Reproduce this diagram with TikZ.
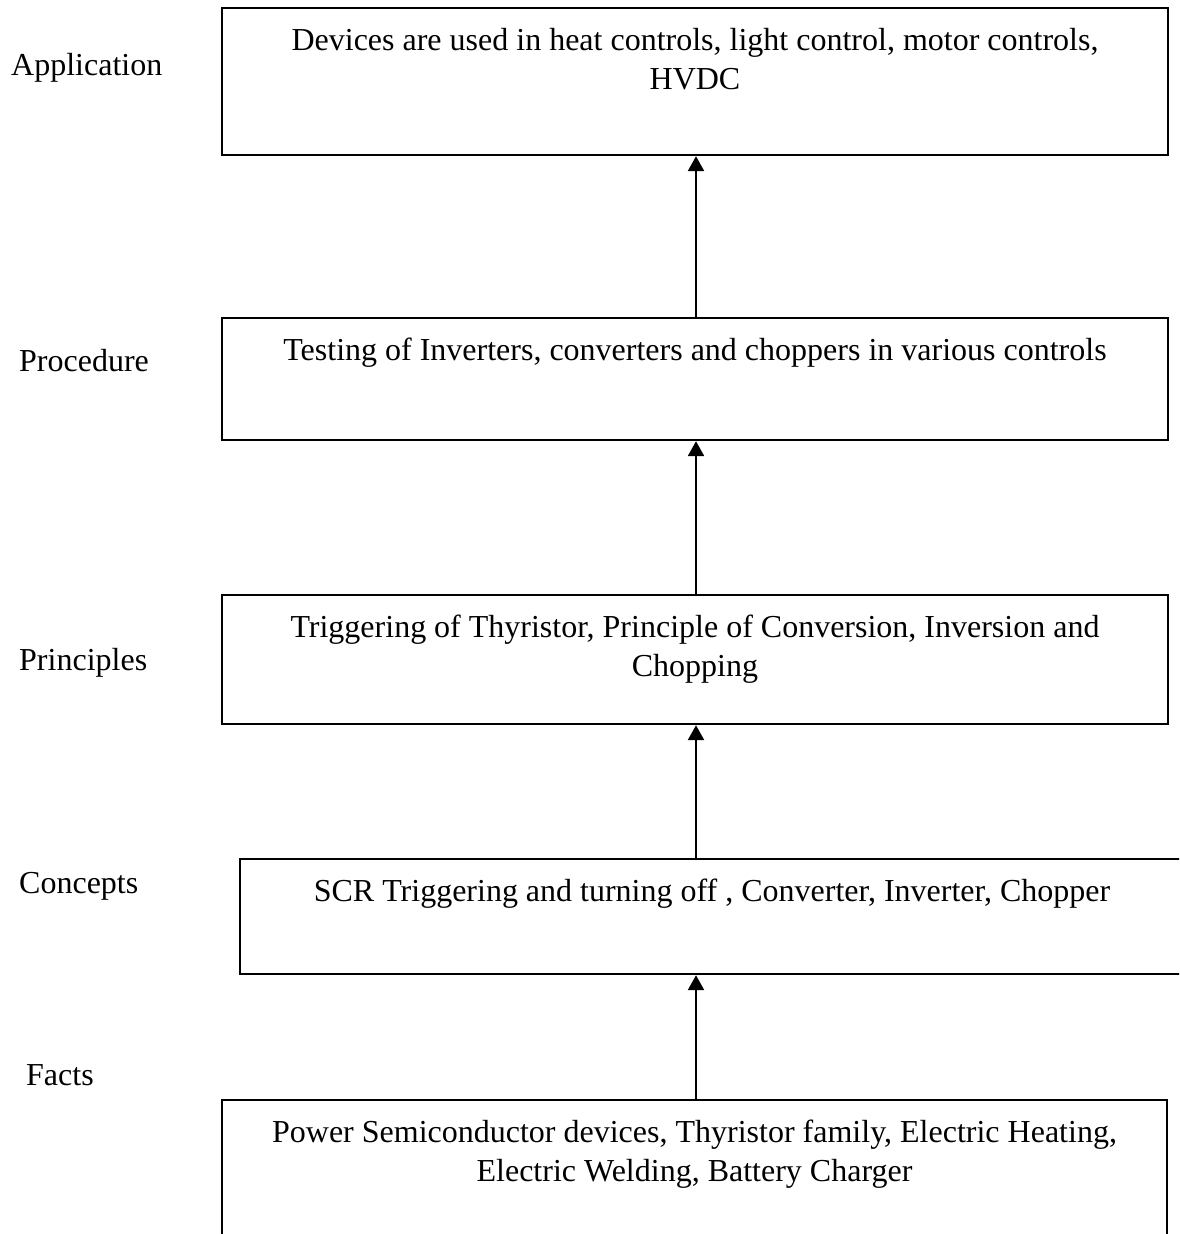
\documentclass[tikz,border=0pt]{standalone}
\usepackage{fontspec}
\setmainfont{Liberation Serif}
\usetikzlibrary{arrows.meta}

\begin{document}
\begin{tikzpicture}[
    x=0.5pt, y=-0.5pt,
    line width=1.2pt,
    >={Triangle[width=8pt,length=7.5pt]},
    every node/.style={font=\fontsize{16}{19.5}\selectfont},
    levelbox/.style={draw, rectangle, inner sep=0pt},
    boxtext/.style={anchor=north, inner sep=0pt, align=center, yshift=-10pt},
    sidetext/.style={anchor=base west, inner sep=0pt}
]
  \useasboundingbox (0,0) rectangle (1179,1234);
  \clip (0,0) rectangle (1179,1234);

  %--- boxes ---
  \node[levelbox, minimum width=473pt, minimum height=73.5pt] (app)  at (695,81.5)  {};
  \node[levelbox, minimum width=473pt, minimum height=61pt]   (proc) at (695,379)   {};
  \node[levelbox, minimum width=473pt, minimum height=64.5pt] (prin) at (695,659.5) {};
  \node[levelbox, minimum width=472pt, minimum height=57.5pt] (conc) at (712,916.5) {};
  \node[levelbox, minimum width=472.5pt, minimum height=95pt] (fact) at (694.5,1195) {};

  %--- box texts ---
  \node[boxtext] (apptext)  at (app.north)  {Devices are used in heat controls, light control, motor controls,\\ HVDC};
  \node[boxtext] (proctext) at (proc.north) {Testing of Inverters, converters and choppers in various controls};
  \node[boxtext] (printext) at (prin.north) {Triggering of Thyristor, Principle of Conversion, Inversion and\\ Chopping};
  \node[boxtext] (conctext) at (conc.north) {SCR Triggering and turning off , Converter, Inverter, Chopper};
  \node[boxtext] (facttext) at (fact.north) {Power Semiconductor devices, Thyristor family, Electric Heating,\\ Electric Welding, Battery Charger};

  %--- level names ---
  \node[sidetext] (applbl)  at (10,76)   {Application};
  \node[sidetext] (proclbl) at (18,372)  {Procedure};
  \node[sidetext] (prinlbl) at (18,670)  {Principles};
  \node[sidetext] (conclbl) at (18,893)  {Concepts};
  \node[sidetext] (factlbl) at (25,1085) {Facts};

  %--- arrows ---
  \draw[->] (fact.north -| 696,0) -- (conc.south -| 696,0);
  \draw[->] (conc.north -| 696,0) -- (prin.south -| 696,0);
  \draw[->] (prin.north -| 696,0) -- (proc.south -| 696,0);
  \draw[->] (proc.north -| 696,0) -- (app.south -| 696,0);
\end{tikzpicture}
\end{document}
